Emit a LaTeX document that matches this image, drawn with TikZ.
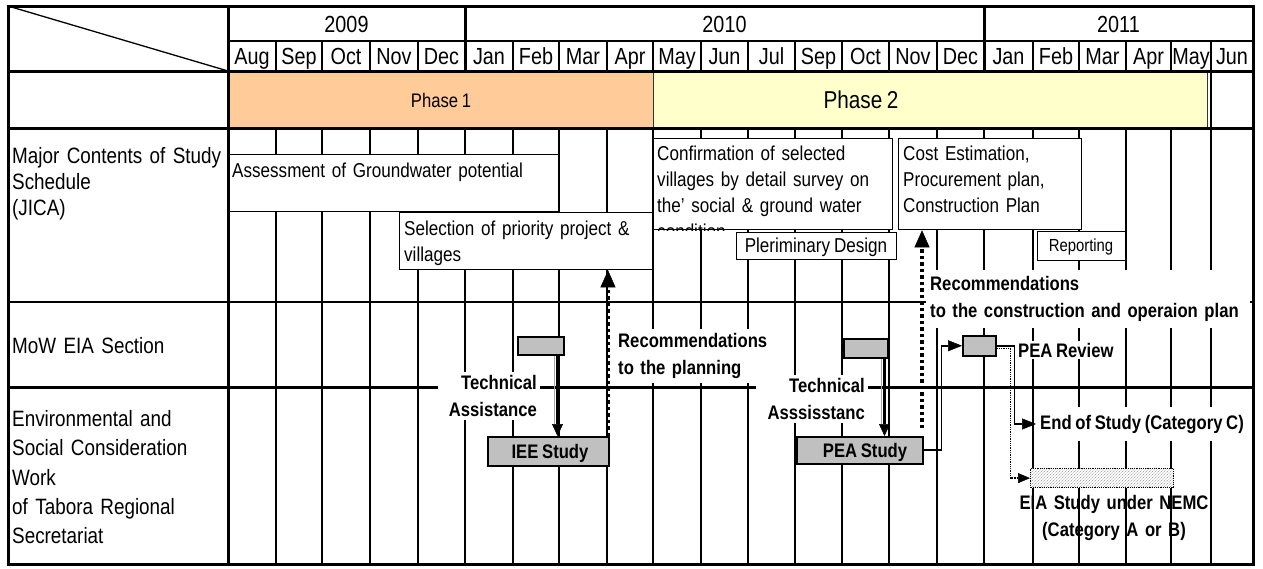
\documentclass[tikz,border=0pt]{standalone}
\usepackage{fontspec}
\setmainfont{Liberation Sans}[FakeStretch=0.85, WordSpace=0.8]
\usetikzlibrary{arrows.meta,patterns}
\newcommand\setsz[2]{\fontsize{#1}{#2}\selectfont}
\definecolor{phaseone}{HTML}{FFCC99}
\definecolor{phasetwo}{HTML}{FFFFCC}
\definecolor{boxgray}{HTML}{C0C0C0}

\begin{document}
\begin{tikzpicture}[x=1pt,y=-1pt,
  gridline/.style={line width=1.3pt},
  yearline/.style={line width=2.8pt},
  frameline/.style={line width=3pt},
  yeartext/.style={font=\setsz{23.3}{27}, inner sep=0pt, anchor=base},
  monthtext/.style={font=\setsz{23.3}{27}, inner sep=0pt, anchor=base},
  rowlabel/.style={font=\setsz{22.2}{26}, text width=220pt, align=left, inner sep=0pt, anchor=base west},
  phasebox/.style={draw=black!80, line width=1pt, anchor=north west, inner sep=0pt},
  taskbox/.style={draw=black, line width=1.3pt, fill=white, anchor=north west, inner sep=0pt},
  tasktext/.style={font=\setsz{20.1}{26}, text width=330pt, align=left, inner sep=0pt, anchor=base west},
  studybox/.style={draw=black, line width=1.5pt, fill=boxgray, anchor=north west, inner sep=0pt},
  note/.style={font=\bfseries\setsz{19.6}{27.5}, inner sep=0pt},
  blank/.style={fill=white},
  recarrow/.style={line width=3.5pt, dash pattern=on 3.5pt off 3pt,
    -{Triangle[width=15pt,length=17pt,line width=0.5pt]}},
  flowarrow/.style={line width=2.2pt, -{Triangle[width=11pt,length=12pt,line width=0.5pt]}},
  linkarrow/.style={line width=1.6pt, -{Triangle[width=11pt,length=14pt,line width=0.5pt]}},
  arrowshade/.style={draw=black!35, line width=1pt},
]
\fill[white] (0,0) rectangle (1263,568);
\useasboundingbox (0,0) rectangle (1263,568);

% ---- phase bars
\node[phasebox, fill=phaseone, minimum width=425pt, minimum height=57pt] (ph1) at (228,71) {};
\node[phasebox, fill=phasetwo, minimum width=554pt, minimum height=57pt] (ph2) at (653,71) {};
\node[font=\setsz{19.6}{22}, inner sep=0pt, anchor=base] (ph1t) at (441,107) {Phase 1};
\node[font=\setsz{24.4}{28}, inner sep=0pt, anchor=base] (ph2t) at (861,108.5) {Phase 2};
\draw[gridline] (1211,71) -- (1211,128);

% ---- body grid
\foreach \x in {276,322,370,418,513,559,607,653,701,748,795,842,889,937,1033,1079,1126,1171,1211}
  \draw[gridline] (\x,128) -- (\x,564);
\foreach \x in {465,984}
  \draw[yearline] (\x,128) -- (\x,564);
\draw[gridline] (8,302) -- (1253,302);
\draw[frameline] (8,387) -- (1253,387);

% ---- study schedule tasks
\node[taskbox, minimum width=331pt, minimum height=57pt] (assess) at (227,154) {};
\node[tasktext] (assesst) at (232,177) {Assessment of Groundwater potential};
\node[taskbox, minimum width=253pt, minimum height=57pt] (select) at (399,212) {};
\node[tasktext] (selectt) at (404,235) {Selection of priority project \&\\villages};
\node[taskbox, minimum width=239pt, minimum height=91pt] (conf) at (653,138) {};
\begin{scope}
  \clip (conf.north west) rectangle (conf.south east);
  \node[tasktext] (conft) at (657,160.5) {Confirmation of selected\\villages by detail survey on\\the' social \& ground water\\condition};
\end{scope}
\node[taskbox, minimum width=183pt, minimum height=91pt] (cost) at (898,138) {};
\node[tasktext] (costt) at (903,160.5) {Cost Estimation,\\Procurement plan,\\Construction Plan};
\node[taskbox, minimum width=160pt, minimum height=27pt] (prelim) at (736,232) {};
\node[font=\setsz{20.1}{22}, inner sep=0pt, anchor=base] (prelimt) at (816,252.5) {Pleriminary Design};
\node[taskbox, minimum width=88pt, minimum height=29pt] (report) at (1037,231) {};
\node[font=\setsz{17.5}{20}, inner sep=0pt, anchor=base] (reportt) at (1081,251.5) {Reporting};

% ---- studies and reviews
\node[studybox, minimum width=46pt, minimum height=18pt] (ieeg) at (517,336) {};
\node[studybox, minimum width=121pt, minimum height=29pt] (iee) at (487,436) {};
\node[note, anchor=base] (ieet) at (550,458) {IEE Study};
\node[studybox, minimum width=44pt, minimum height=19pt] (peag) at (843,338) {};
\node[studybox, minimum width=126pt, minimum height=27pt] (pea) at (796,436) {};
\node[note, anchor=base] (peat) at (865,457) {PEA Study};
\node[studybox, minimum width=33pt, minimum height=20pt] (review) at (962,335) {};

% ---- labels
\node[note, blank, text width=96pt, align=right, anchor=base east, inner xsep=3pt, inner ysep=3pt] (techa) at (540,389) {Technical\\Assistance};
\node[note, blank, text width=158pt, align=left, anchor=base west, inner sep=4pt] (reci) at (614,347) {Recommendations\\to the planning};
\node[note, blank, text width=106pt, align=right, anchor=base east, inner xsep=3pt, inner ysep=3pt] (techp) at (868,392) {Technical\\Asssisstanc};
\node[note, blank, text width=316pt, align=left, anchor=base west, inner xsep=4pt, inner ysep=6pt] (recc) at (926,290) {Recommendations\\to the construction and operaion plan};
\node[note, blank, anchor=base west, inner sep=1.5pt] (reviewt) at (1016.5,357) {PEA Review};
\node[note, blank, anchor=base west, inner xsep=4pt, inner ysep=8pt] (endt) at (1036,429) {End of Study (Category C)};
\node[draw=black, densely dotted, line width=1.2pt, minimum width=143pt, minimum height=19pt, anchor=north west, inner sep=0pt,
      preaction={fill=white}, pattern=north east lines, pattern color=black!40] (eia) at (1030,468) {};
\node[note, text width=230pt, align=center, anchor=base] (eiat) at (1114,509) {EIA Study under NEMC\\(Category A or B)};

% ---- recommendation arrows
\coordinate (ieetop) at ([xshift=-1.5pt]iee.north east);
\draw[recarrow] (ieetop) -- (ieetop |- select.south);
\coordinate (peatop) at ([xshift=-1.5pt,yshift=8pt]pea.north east);
\draw[recarrow] (peatop) -- (peatop |- cost.south);

% ---- technical assistance arrows
\coordinate (ieedrop) at ([xshift=-7pt]ieeg.south east);
\coordinate (ieehit) at (ieedrop |- iee.north);
\draw[arrowshade] ([xshift=-3.5pt]ieedrop) -- ([xshift=-3.5pt,yshift=12pt]ieehit);
\draw[flowarrow] (ieedrop) -- (ieehit);
\coordinate (peadrop) at ([xshift=-4pt]peag.south east);
\coordinate (peahit) at (peadrop |- pea.north);
\draw[arrowshade] ([xshift=-3.5pt]peadrop) -- ([xshift=-3.5pt,yshift=12pt]peahit);
\draw[flowarrow] (peadrop) -- (peahit);

% ---- review flow
\draw[linkarrow] (pea.east) -- ++(18,0) |- (review.west);
\draw[line width=1.3pt, densely dotted, -{Triangle[width=10pt,length=12pt,line width=0.5pt]}]
  ([yshift=-3pt]review.east) -- ++(14,0) |- (eia.west);
\draw[linkarrow] (review.east) -- ++(18,0) |- (endt.west);

% ---- row labels
\node[rowlabel] (jica) at (12,163) {Major Contents of Study\\Schedule\\(JICA)};
\node[rowlabel] (mow) at (12,353) {MoW EIA Section};
\node[rowlabel, font=\setsz{22.2}{29.25}] (env) at (12,426.5) {Environmental and\\Social Consideration\\Work\\of Tabora Regional\\Secretariat};

% ---- header
\node[yeartext] (y2009) at (346.5,32) {2009};
\node[yeartext] (y2010) at (724.5,32) {2010};
\node[yeartext] (y2011) at (1118.5,32) {2011};
\foreach \a/\b/\m [count=\i] in {228/276/Aug,276/322/Sep,322/370/Oct,370/418/Nov,418/465/Dec,
    465/513/Jan,513/559/Feb,559/607/Mar,607/653/Apr,653/701/May,701/748/Jun,748/795/Jul,
    795/842/Sep,842/889/Oct,889/937/Nov,937/984/Dec,984/1033/Jan,1033/1079/Feb,
    1079/1126/Mar,1126/1171/Apr,1171/1211/May,1211/1253/Jun}
  \node[monthtext] (mon\i) at ({(\a+\b)/2},64) {\m};
\foreach \x in {276,322,370,418,513,559,607,653,701,748,795,842,889,937,1033,1079,1126,1171,1211}
  \draw[gridline] (\x,41) -- (\x,71);

% ---- frame
\draw[line width=2pt] (228,41) -- (1253,41);
\draw[frameline] (8,71) -- (1253,71);
\draw[frameline] (8,128) -- (1253,128);
\draw[frameline] (228,6) -- (228,564);
\draw[frameline] (465,6) -- (465,71);
\draw[frameline] (984,6) -- (984,71);
\draw[gridline] (8,6) -- (228,71);
\draw[frameline] (8,6) rectangle (1253,564);
\end{tikzpicture}
\end{document}
